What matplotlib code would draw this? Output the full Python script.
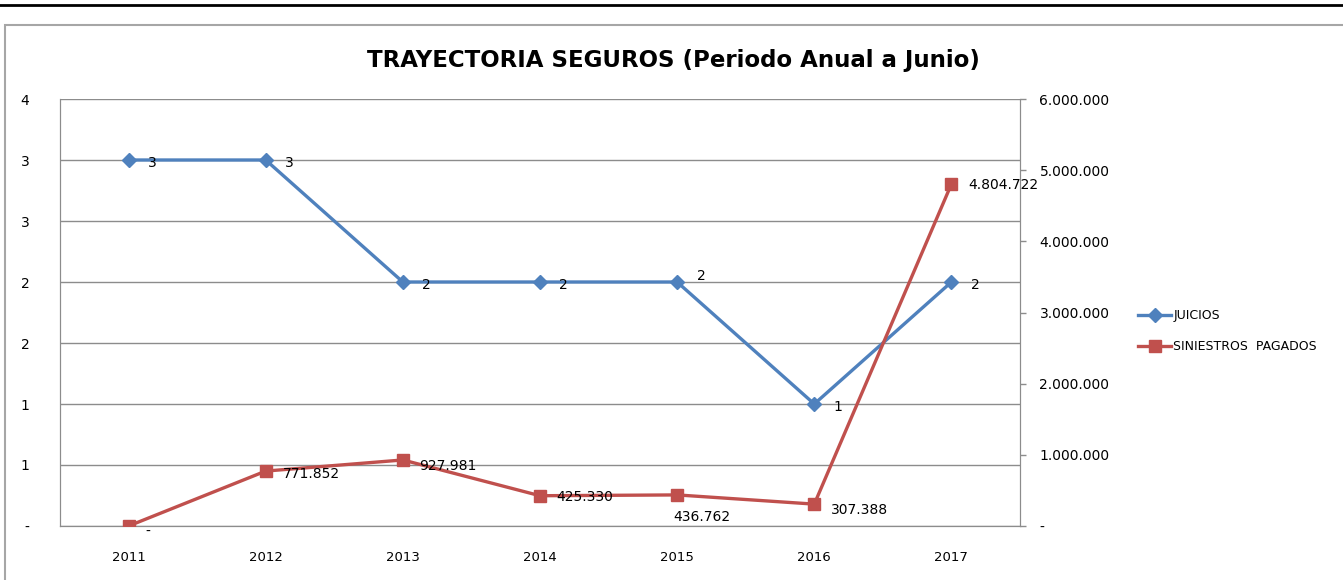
import matplotlib
matplotlib.use('Agg')
import matplotlib.pyplot as plt
from matplotlib.patches import Rectangle
from matplotlib.lines import Line2D
from matplotlib.ticker import FuncFormatter, MultipleLocator

years = ["2011", "2012", "2013", "2014", "2015", "2016", "2017"]
juicios = [3, 3, 2, 2, 2, 1, 2]
siniestros = [0, 771852, 927981, 425330, 436762, 307388, 4804722]

BLUE = "#4F81BD"
RED = "#C0504D"
GRID = "#8c8c8c"


def miles(v):
    # formato tipo Excel: punto como separador de miles, cero como "-"
    if v == 0:
        return "-"
    return f"{int(v + 0.5):,}".replace(",", ".")


fig = plt.figure(figsize=(13.43, 5.80), dpi=100)

# marco del grafico y linea superior
fig.add_artist(Rectangle((5 / 1343, -0.01), 1.0, (580 - 25) / 580 + 0.01,
                         transform=fig.transFigure, fill=False,
                         edgecolor="#a6a6a6", linewidth=1.5))
fig.add_artist(Line2D([0, 1], [1 - 5 / 580, 1 - 5 / 580], transform=fig.transFigure,
                      color="black", linewidth=2))

ax = fig.add_axes([60 / 1343, 54 / 580, 960 / 1343, 427 / 580])
ax2 = ax.twinx()

x = range(len(years))
ax.set_xlim(-0.5, len(years) - 0.5)
ax.set_ylim(0, 3.5)
ax.yaxis.set_major_locator(MultipleLocator(0.5))
ax.yaxis.set_major_formatter(FuncFormatter(lambda v, p: miles(v)))
ax.grid(axis="y", color=GRID, linewidth=1)
ax.set_axisbelow(True)
ax.set_xticks(list(x))
ax.set_xticklabels(years)
ax.tick_params(axis="x", length=0, pad=18, labelsize=9.5)
ax.tick_params(axis="y", length=0, pad=22, labelsize=10)

ax2.set_ylim(0, 6000000)
ax2.yaxis.set_major_locator(MultipleLocator(1000000))
ax2.yaxis.set_major_formatter(FuncFormatter(lambda v, p: miles(v)))
ax2.tick_params(axis="y", length=4, width=1, color=GRID, pad=10, labelsize=10)

for a in (ax, ax2):
    for s in a.spines.values():
        s.set_color(GRID)
    a.spines["top"].set_visible(False)

l1, = ax.plot(x, juicios, color=BLUE, linewidth=2.4, marker="D", markersize=7,
              label="JUICIOS", zorder=3)
l2, = ax2.plot(x, siniestros, color=RED, linewidth=2.4, marker="s", markersize=9,
               label="SINIESTROS  PAGADOS", zorder=3)

# etiquetas de datos
for i, v in enumerate(juicios):
    dy = 4 if i == 4 else -2
    ax.annotate(miles(v), (i, v), xytext=(14, dy), textcoords="offset points",
                ha="left", va="center", fontsize=10)
for i, v in enumerate(siniestros):
    if i == 4:
        ax2.annotate(miles(v), (i, v), xytext=(18, -16), textcoords="offset points",
                     ha="center", va="center", fontsize=10)
    else:
        dy = -4 if i in (0, 2, 5) else -1
        if i == 1:
            dy = -2
        ax2.annotate(miles(v), (i, v), xytext=(12, dy), textcoords="offset points",
                     ha="left", va="center", fontsize=10)

fig.legend(handles=[l1, l2], loc="center left", bbox_to_anchor=(1132 / 1343, 1 - 331 / 580),
           frameon=False, fontsize=9, handlelength=2.6, labelspacing=1.45,
           handletextpad=0.2, borderpad=0)

fig.text(673 / 1343, 1 - 60 / 580, "TRAYECTORIA SEGUROS (Periodo Anual a Junio)",
         ha="center", va="center", fontsize=16.5, fontweight="bold")

fig.savefig("out.png", dpi=100)
